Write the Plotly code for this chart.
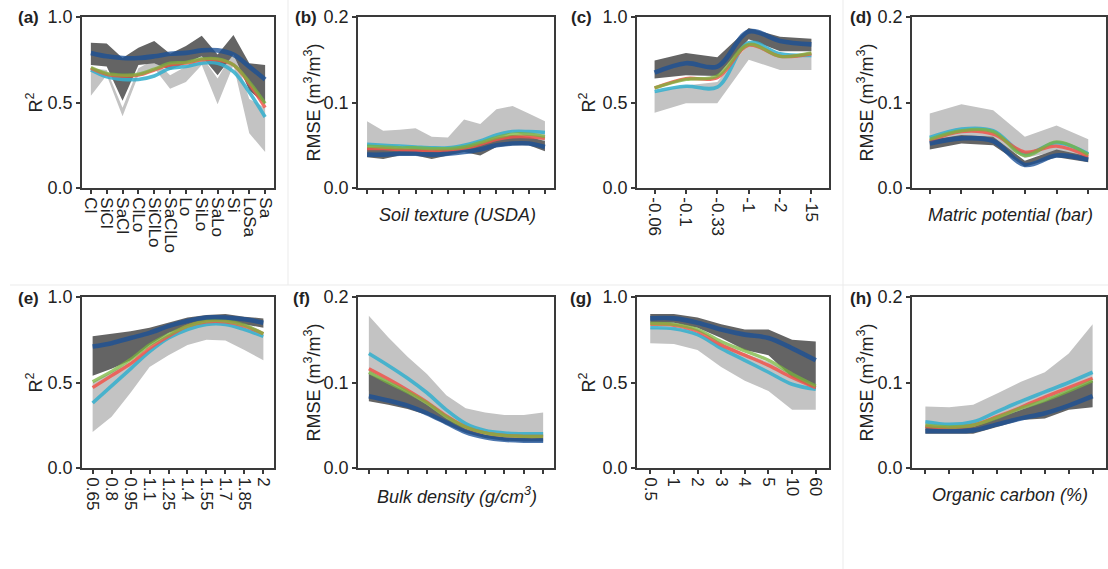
import plotly.graph_objects as go

W, H = 1108, 569

# ---------------- data ----------------
texture_labels = ["Cl", "SiCl", "SaCl", "ClLo", "SiClLo", "SaClLo", "Lo", "SiLo", "SaLo", "Si", "LoSa", "Sa"]
matric_labels = ["-0.06", "-0.1", "-0.33", "-1", "-2", "-15"]
bd_labels = ["0.65", "0.8", "0.95", "1.1", "1.25", "1.4", "1.55", "1.7", "1.85", "2"]
oc_labels = ["0.5", "1", "2", "3", "4", "5", "10", "60"]

# (a) R2 by soil texture
a_light_hi = [0.70, 0.69, 0.47, 0.70, 0.75, 0.66, 0.71, 0.77, 0.64, 0.80, 0.52, 0.47]
a_light_lo = [0.54, 0.66, 0.42, 0.66, 0.70, 0.58, 0.62, 0.72, 0.49, 0.72, 0.32, 0.21]
a_dark_hi = [0.85, 0.845, 0.76, 0.82, 0.86, 0.785, 0.83, 0.89, 0.78, 0.895, 0.73, 0.72]
a_dark_lo = [0.72, 0.71, 0.51, 0.72, 0.73, 0.69, 0.73, 0.77, 0.66, 0.78, 0.57, 0.49]
a_blue = [0.79, 0.77, 0.76, 0.76, 0.77, 0.785, 0.79, 0.805, 0.805, 0.78, 0.71, 0.635]
a_cyan = [0.69, 0.65, 0.635, 0.635, 0.655, 0.70, 0.71, 0.73, 0.73, 0.68, 0.56, 0.415]
a_red = [0.70, 0.665, 0.655, 0.66, 0.69, 0.72, 0.73, 0.75, 0.75, 0.72, 0.61, 0.47]
a_green = [0.705, 0.67, 0.66, 0.665, 0.695, 0.73, 0.735, 0.755, 0.755, 0.72, 0.62, 0.495]

# (b) RMSE by soil texture
b_light_hi = [0.078, 0.067, 0.068, 0.070, 0.060, 0.059, 0.080, 0.075, 0.092, 0.096, 0.087, 0.078]
b_light_lo = [0.044, 0.042, 0.050, 0.044, 0.041, 0.042, 0.045, 0.047, 0.056, 0.066, 0.060, 0.055]
b_dark_hi = [0.047, 0.046, 0.046, 0.046, 0.044, 0.046, 0.050, 0.052, 0.058, 0.062, 0.060, 0.055]
b_dark_lo = [0.036, 0.034, 0.038, 0.038, 0.034, 0.038, 0.042, 0.038, 0.048, 0.050, 0.050, 0.043]
b_blue = [0.039, 0.039, 0.040, 0.040, 0.039, 0.040, 0.042, 0.045, 0.050, 0.052, 0.052, 0.048]
b_cyan = [0.051, 0.050, 0.049, 0.048, 0.047, 0.047, 0.050, 0.055, 0.062, 0.066, 0.066, 0.065]
b_red = [0.046, 0.046, 0.045, 0.044, 0.044, 0.044, 0.046, 0.051, 0.057, 0.060, 0.060, 0.058]
b_green = [0.049, 0.048, 0.047, 0.047, 0.046, 0.046, 0.048, 0.053, 0.059, 0.063, 0.063, 0.060]

# (c) R2 by matric potential
c_light_hi = [0.56, 0.60, 0.62, 0.84, 0.77, 0.77]
c_light_lo = [0.44, 0.495, 0.495, 0.75, 0.69, 0.69]
c_dark_hi = [0.745, 0.79, 0.765, 0.935, 0.885, 0.873]
c_dark_lo = [0.64, 0.66, 0.655, 0.87, 0.80, 0.80]
c_blue = [0.675, 0.73, 0.71, 0.915, 0.86, 0.84]
c_cyan = [0.565, 0.595, 0.59, 0.85, 0.785, 0.775]
c_red = [0.585, 0.64, 0.645, 0.835, 0.77, 0.785]
c_green = [0.585, 0.635, 0.655, 0.84, 0.77, 0.79]

# (d) RMSE by matric potential
d_light_hi = [0.087, 0.098, 0.091, 0.060, 0.073, 0.057]
d_light_lo = [0.050, 0.058, 0.055, 0.035, 0.043, 0.035]
d_dark_hi = [0.056, 0.062, 0.060, 0.032, 0.045, 0.037]
d_dark_lo = [0.045, 0.052, 0.050, 0.025, 0.036, 0.030]
d_blue = [0.052, 0.058, 0.055, 0.027, 0.038, 0.033]
d_cyan = [0.059, 0.069, 0.067, 0.040, 0.053, 0.040]
d_red = [0.055, 0.066, 0.063, 0.042, 0.049, 0.037]
d_green = [0.057, 0.067, 0.066, 0.038, 0.054, 0.039]

# (e) R2 by bulk density
e_light_hi = [0.50, 0.56, 0.62, 0.70, 0.77, 0.82, 0.85, 0.85, 0.82, 0.77]
e_light_lo = [0.21, 0.30, 0.44, 0.59, 0.66, 0.72, 0.75, 0.745, 0.69, 0.63]
e_dark_hi = [0.77, 0.785, 0.80, 0.82, 0.85, 0.88, 0.895, 0.90, 0.885, 0.875]
e_dark_lo = [0.54, 0.58, 0.63, 0.72, 0.79, 0.83, 0.86, 0.86, 0.84, 0.82]
e_blue = [0.71, 0.73, 0.76, 0.79, 0.83, 0.86, 0.88, 0.88, 0.87, 0.85]
e_cyan = [0.38, 0.48, 0.58, 0.68, 0.76, 0.81, 0.84, 0.84, 0.81, 0.77]
e_red = [0.47, 0.54, 0.61, 0.70, 0.77, 0.83, 0.855, 0.855, 0.83, 0.785]
e_green = [0.505, 0.565, 0.635, 0.72, 0.78, 0.83, 0.86, 0.86, 0.835, 0.785]

# (f) RMSE by bulk density
f_light_hi = [0.178, 0.153, 0.130, 0.110, 0.085, 0.070, 0.065, 0.062, 0.062, 0.065]
f_light_lo = [0.090, 0.082, 0.075, 0.066, 0.053, 0.043, 0.037, 0.036, 0.035, 0.036]
f_dark_hi = [0.110, 0.100, 0.088, 0.074, 0.058, 0.046, 0.039, 0.036, 0.035, 0.035]
f_dark_lo = [0.078, 0.074, 0.069, 0.062, 0.051, 0.041, 0.035, 0.032, 0.031, 0.031]
f_blue = [0.084, 0.079, 0.073, 0.064, 0.053, 0.042, 0.036, 0.033, 0.032, 0.032]
f_cyan = [0.134, 0.120, 0.105, 0.088, 0.068, 0.052, 0.044, 0.041, 0.040, 0.040]
f_red = [0.116, 0.104, 0.091, 0.077, 0.061, 0.048, 0.041, 0.038, 0.037, 0.037]
f_green = [0.112, 0.100, 0.089, 0.076, 0.060, 0.048, 0.041, 0.038, 0.037, 0.037]

# (g) R2 by organic carbon
g_light_hi = [0.82, 0.82, 0.79, 0.73, 0.67, 0.62, 0.55, 0.48]
g_light_lo = [0.73, 0.725, 0.69, 0.59, 0.51, 0.45, 0.34, 0.34]
g_dark_hi = [0.90, 0.90, 0.88, 0.84, 0.81, 0.81, 0.75, 0.74]
g_dark_lo = [0.85, 0.85, 0.82, 0.76, 0.69, 0.66, 0.53, 0.46]
g_blue = [0.875, 0.875, 0.85, 0.81, 0.78, 0.76, 0.70, 0.63]
g_cyan = [0.82, 0.815, 0.78, 0.70, 0.63, 0.56, 0.49, 0.46]
g_red = [0.84, 0.835, 0.80, 0.72, 0.66, 0.60, 0.53, 0.47]
g_green = [0.845, 0.84, 0.81, 0.74, 0.685, 0.63, 0.55, 0.48]

# (h) RMSE by organic carbon
h_light_hi = [0.072, 0.071, 0.074, 0.087, 0.101, 0.112, 0.134, 0.168]
h_light_lo = [0.044, 0.043, 0.045, 0.055, 0.062, 0.066, 0.075, 0.080]
h_dark_hi = [0.048, 0.047, 0.048, 0.058, 0.068, 0.078, 0.090, 0.102]
h_dark_lo = [0.040, 0.040, 0.040, 0.048, 0.056, 0.058, 0.068, 0.071]
h_blue = [0.043, 0.043, 0.044, 0.051, 0.058, 0.064, 0.073, 0.084]
h_cyan = [0.054, 0.051, 0.054, 0.066, 0.078, 0.089, 0.100, 0.112]
h_red = [0.049, 0.047, 0.050, 0.060, 0.071, 0.083, 0.094, 0.105]
h_green = [0.050, 0.048, 0.050, 0.059, 0.070, 0.079, 0.090, 0.102]

# ---------------- styling ----------------
FONT = "Liberation Sans, Arial, Helvetica, sans-serif"
LIGHT_GRAY = "rgb(195,195,195)"
DARK_GRAY = "rgb(100,100,100)"
COL_BLUE = "rgba(25,80,150,0.78)"
COL_CYAN = "rgba(55,175,205,0.88)"
COL_RED = "rgba(240,85,75,0.85)"
COL_GREEN = "rgba(120,180,60,0.75)"
AX_COLOR = "#3a3a3a"

panels = [
    ("a", texture_labels, True, 1.0, (a_light_hi, a_light_lo, a_dark_hi, a_dark_lo, a_cyan, a_red, a_green, a_blue), (82, 274, 17, 188), "R2", None),
    ("b", texture_labels, False, 0.2, (b_light_hi, b_light_lo, b_dark_hi, b_dark_lo, b_cyan, b_red, b_green, b_blue), (358, 554, 17, 188), "RMSE", "Soil texture (USDA)"),
    ("c", matric_labels, True, 1.0, (c_light_hi, c_light_lo, c_dark_hi, c_dark_lo, c_cyan, c_red, c_green, c_blue), (637, 829, 17, 188), "R2", None),
    ("d", matric_labels, False, 0.2, (d_light_hi, d_light_lo, d_dark_hi, d_dark_lo, d_cyan, d_red, d_green, d_blue), (912, 1106, 17, 188), "RMSE", "Matric potential (bar)"),
    ("e", bd_labels, True, 1.0, (e_light_hi, e_light_lo, e_dark_hi, e_dark_lo, e_cyan, e_red, e_green, e_blue), (82, 274, 297, 468), "R2", None),
    ("f", bd_labels, False, 0.2, (f_light_hi, f_light_lo, f_dark_hi, f_dark_lo, f_cyan, f_red, f_green, f_blue), (358, 554, 297, 468), "RMSE", "Bulk density (g/cm<sup>3</sup>)"),
    ("g", oc_labels, True, 1.0, (g_light_hi, g_light_lo, g_dark_hi, g_dark_lo, g_cyan, g_red, g_green, g_blue), (637, 829, 297, 468), "R2", None),
    ("h", oc_labels, False, 0.2, (h_light_hi, h_light_lo, h_dark_hi, h_dark_lo, h_cyan, h_red, h_green, h_blue), (912, 1106, 297, 468), "RMSE", "Organic carbon (%)"),
]

fig = go.Figure()
layout = dict(
    width=W, height=H,
    margin=dict(l=0, r=0, t=0, b=0, pad=0, autoexpand=False),
    paper_bgcolor="white", plot_bgcolor="white",
    showlegend=False,
    font=dict(family=FONT, size=17, color="#222"),
)
annotations = []
shapes = []


def px_x(v):
    return v / W


def px_y(v):
    return 1 - v / H


for i, (key, labels, show_lbl, ymax, series, box, ykind, xtitle) in enumerate(panels):
    n = i + 1
    xa = "x" if n == 1 else f"x{n}"
    ya = "y" if n == 1 else f"y{n}"
    light_hi, light_lo, dark_hi, dark_lo, cyan, red, green, blue = series
    xs = list(range(1, len(labels) + 1))

    fig.add_trace(go.Scatter(x=xs + xs[::-1], y=light_hi + light_lo[::-1], fill="toself",
                             fillcolor=LIGHT_GRAY, line=dict(width=0), mode="lines",
                             hoverinfo="skip", xaxis=xa, yaxis=ya))
    fig.add_trace(go.Scatter(x=xs + xs[::-1], y=dark_hi + dark_lo[::-1], fill="toself",
                             fillcolor=DARK_GRAY, line=dict(width=0), mode="lines",
                             hoverinfo="skip", xaxis=xa, yaxis=ya))
    for vals, col, w in ((cyan, COL_CYAN, 3.6), (red, COL_RED, 3.4), (green, COL_GREEN, 3.4), (blue, COL_BLUE, 4.6)):
        fig.add_trace(go.Scatter(x=xs, y=vals, mode="lines",
                                 line=dict(color=col, width=w, shape="spline", smoothing=1.0),
                                 xaxis=xa, yaxis=ya))

    x0, x1, y0, y1 = box
    pad = 0.56
    xkey = "xaxis" if n == 1 else f"xaxis{n}"
    ykey = "yaxis" if n == 1 else f"yaxis{n}"
    layout[xkey] = dict(
        domain=[px_x(x0), px_x(x1)], anchor=ya, automargin=False,
        range=[1 - pad, len(labels) + pad],
        tickmode="array", tickvals=xs,
        ticktext=labels if show_lbl else [""] * len(labels),
        showticklabels=show_lbl,
        tickangle=90, ticks="outside", ticklen=4, tickwidth=1.5, tickcolor=AX_COLOR,
        showline=True, mirror=True, linecolor=AX_COLOR, linewidth=1.8,
        showgrid=False, zeroline=False,
        tickfont=dict(size=17, family=FONT, color="#222"),
    )
    layout[ykey] = dict(
        domain=[px_y(y1), px_y(y0)], anchor=xa, automargin=False,
        range=[0, ymax],
        tickmode="array", tickvals=[0, ymax / 2, ymax],
        ticktext=[f"{v:.1f}" for v in (0, ymax / 2, ymax)],
        ticks="outside", ticklen=4, tickwidth=1.5, tickcolor=AX_COLOR,
        showline=True, mirror=True, linecolor=AX_COLOR, linewidth=1.8,
        showgrid=False, zeroline=False,
        tickfont=dict(size=18, family=FONT, color="#222"),
    )

    letter_x = {"a": 41, "b": 319, "c": 594, "d": 874, "e": 41, "f": 312, "g": 594, "h": 874}[key]
    annotations.append(dict(text=f"<b>({key})</b>", x=px_x(letter_x), y=px_y(y0 + 1),
                            xref="paper", yref="paper", xanchor="right", yanchor="middle",
                            showarrow=False, font=dict(size=17, family=FONT, color="#222")))
    ytx = {"a": 35, "b": 313, "c": 588, "d": 866, "e": 35, "f": 313, "g": 588, "h": 866}[key]
    ytext = "R<sup>2</sup>" if ykind == "R2" else "RMSE (m<sup>3</sup>/m<sup>3</sup>)"
    annotations.append(dict(text=ytext, x=px_x(ytx), y=px_y((y0 + y1) / 2),
                            xref="paper", yref="paper", xanchor="center", yanchor="middle",
                            textangle=-90, showarrow=False,
                            font=dict(size=18, family=FONT, color="#222")))
    if xtitle:
        annotations.append(dict(text=f"<i>{xtitle}</i>", x=px_x((x0 + x1) / 2 + 1), y=px_y(y1 + 27),
                                xref="paper", yref="paper", xanchor="center", yanchor="middle",
                                showarrow=False, font=dict(size=18, family=FONT, color="#222")))

sep = dict(color="#ebebeb", width=1)
shapes.append(dict(type="line", xref="paper", yref="paper", x0=px_x(288), x1=px_x(288), y0=1, y1=px_y(285), line=sep))
shapes.append(dict(type="line", xref="paper", yref="paper", x0=px_x(843), x1=px_x(843), y0=1, y1=0, line=sep))
shapes.append(dict(type="line", xref="paper", yref="paper", x0=px_x(10), x1=1, y0=px_y(285), y1=px_y(285), line=sep))

layout["annotations"] = annotations
layout["shapes"] = shapes
fig.update_layout(**layout)
fig.write_html("out.html", config={"displayModeBar": False},
               post_script="document.body.style.margin='0';document.body.style.overflow='hidden';")
